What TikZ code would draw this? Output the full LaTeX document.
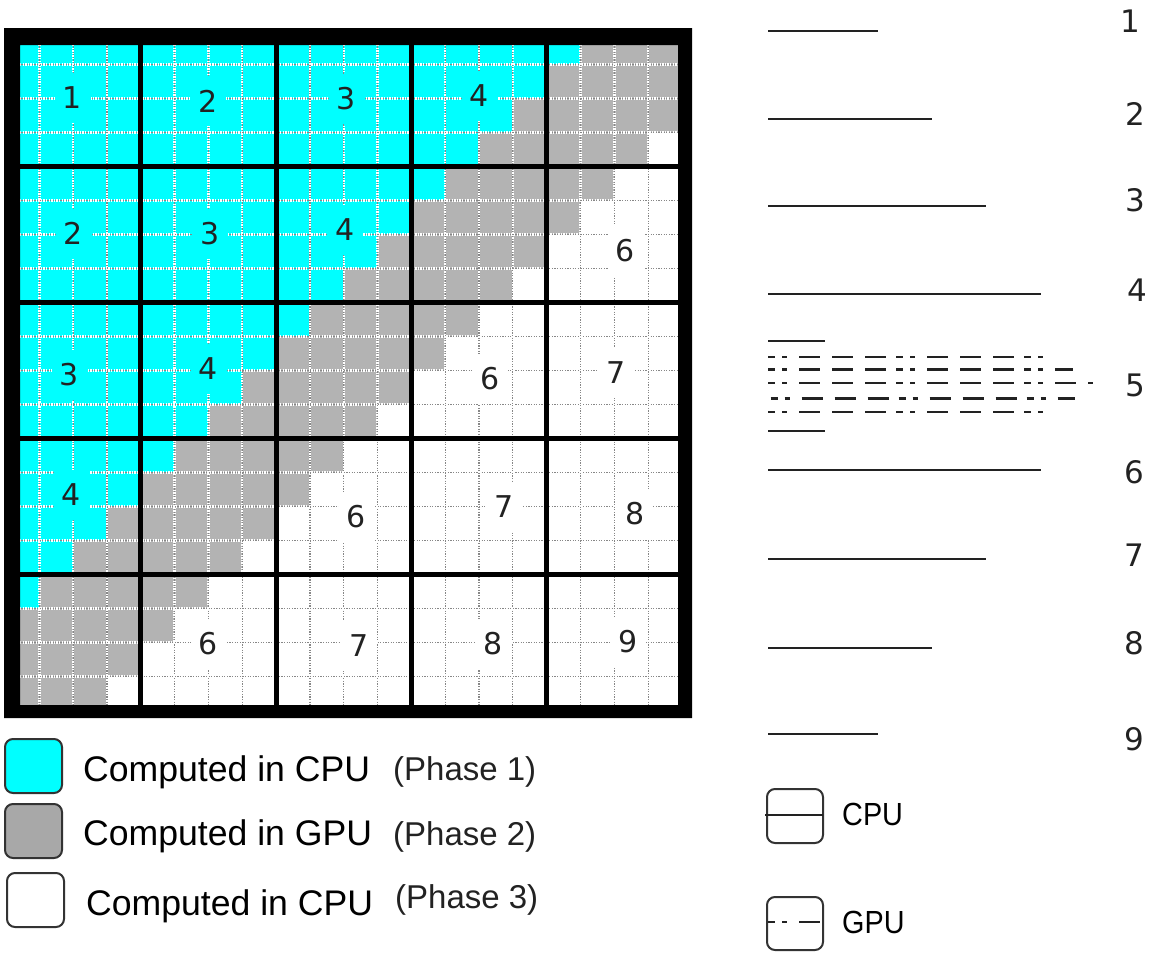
\documentclass[tikz,border=0pt]{standalone}
\usepackage{fontspec}
\usepackage{graphicx}
\newfontfamily\numfont{DejaVu Sans}
\newfontfamily\legfont{Liberation Sans}
\definecolor{cellcpu}{RGB}{0,255,255}
\definecolor{cellgpu}{RGB}{179,179,179}
\definecolor{keygpu}{RGB}{168,168,168}
\definecolor{ink}{RGB}{34,34,34}
\definecolor{keyedge}{RGB}{51,51,51}
\definecolor{dotgray}{RGB}{135,135,135}
% fine grid: origin and cell pitch
\def\GX{5.5}
\def\GY{30.5}
\def\GDX{33.825}
\def\GDY{34}
\begin{document}
\begin{tikzpicture}[x=1pt,y=-1pt,
  fineback/.style={white,line width=2.4pt,dash pattern=on 1.4pt off 1.2pt},
  finedot/.style={dotgray,line width=1.2pt,dash pattern=on 1.2pt off 1.4pt,dash phase=-1.4pt},
  blockline/.style={black,line width=5pt},
  blocklabel/.style={font=\numfont\fontsize{30}{36}\selectfont,text=ink,inner sep=0pt,minimum width=36pt,minimum height=50pt},
  rownum/.style={font=\numfont\fontsize{31}{37}\selectfont,text=ink,inner sep=0pt},
  cpuline/.style={ink,line width=2.4pt},
  gpuline/.style={ink,line width=2.4pt,dash pattern=on 7pt off 7pt on 5pt off 12pt on 21pt off 12pt on 21pt off 12pt on 21pt off 10pt},
  keybox/.style={draw=keyedge,line width=2pt,rounded corners=8pt},
  keytext/.style={font=\legfont\fontsize{35.6}{42}\selectfont,text=black,inner sep=0pt,anchor=base west},
  phasetext/.style={font=\legfont\fontsize{33}{40}\selectfont,text=ink,inner sep=0pt,anchor=base west},
  unittext/.style={font=\legfont\fontsize{32}{38}\selectfont,text=black,inner sep=0pt,anchor=base west}
]
\useasboundingbox (0,0) rectangle (1149,953);

% cells coloured by anti-diagonal index r+c
\foreach \r in {0,...,19}{
  \foreach \c in {0,...,19}{
    \pgfmathtruncatemacro\s{\r+\c}
    \ifnum\s<17 \def\cc{cellcpu}\else\ifnum\s<22 \def\cc{cellgpu}\else\def\cc{white}\fi\fi
    \fill[\cc] (\GX+\c*\GDX,\GY+\r*\GDY) rectangle (\GX+\c*\GDX+\GDX,\GY+\r*\GDY+\GDY);
  }
}

% fine dotted grid
\foreach \k in {1,...,19}{
  \pgfmathtruncatemacro\m{mod(\k,4)}
  \ifnum\m>0
    \draw[fineback] (\GX+\k*\GDX,45) -- (\GX+\k*\GDX,705);
    \draw[fineback] (20,\GY+\k*\GDY) -- (678,\GY+\k*\GDY);
    \draw[finedot] (\GX+\k*\GDX,45) -- (\GX+\k*\GDX,705);
    \draw[finedot] (20,\GY+\k*\GDY) -- (678,\GY+\k*\GDY);
  \fi
}

% block labels
\node[blocklabel,fill=cellcpu] (b00) at (72.5,98) {1};
\node[blocklabel,fill=cellcpu] (b01) at (208,101) {2};
\node[blocklabel,fill=cellcpu] (b02) at (346.5,98.5) {3};
\node[blocklabel,fill=cellcpu] (b03) at (479.5,96) {4};
\node[blocklabel,fill=cellcpu] (b10) at (73.5,233.5) {2};
\node[blocklabel,fill=cellcpu] (b11) at (210,233.5) {3};
\node[blocklabel,fill=cellcpu] (b12) at (345,230) {4};
\node[blocklabel,fill=white] (b14) at (625.5,251) {6};
\node[blocklabel,fill=cellcpu] (b20) at (69.5,375) {3};
\node[blocklabel,fill=cellcpu] (b21) at (208.5,369) {4};
\node[blocklabel,fill=white] (b23) at (490,379) {6};
\node[blocklabel,fill=white] (b24) at (616,372.5) {7};
\node[blocklabel,fill=cellcpu] (b30) at (71.5,495) {4};
\node[blocklabel,fill=white] (b32) at (356.5,517) {6};
\node[blocklabel,fill=white] (b33) at (504,506.5) {7};
\node[blocklabel,fill=white] (b34) at (635,514) {8};
\node[blocklabel,fill=white] (b41) at (208.5,643.5) {6};
\node[blocklabel,fill=white] (b42) at (359,646) {7};
\node[blocklabel,fill=white] (b43) at (493,644) {8};
\node[blocklabel,fill=white] (b44) at (628,642) {9};

% block separators and outer frame
\foreach \k in {1,...,4}{
  \draw[blockline] (\GX+4*\k*\GDX,45) -- (\GX+4*\k*\GDX,705);
  \draw[blockline] (20,\GY+4*\k*\GDY) -- (678,\GY+4*\k*\GDY);
}
\fill[black,even odd rule] (4,28) rectangle (692,718) (20,45) rectangle (678,705);

% legend of colours
\draw[keybox,fill=cellcpu] (5,739) rectangle (62,793);
\draw[keybox,fill=keygpu] (5,804) rectangle (62,858);
\draw[keybox,fill=white] (7,873) rectangle (64,927);
\node[keytext] (k1) at (83,781) {Computed in CPU};
\node[keytext] (k2) at (83,845) {Computed in GPU};
\node[keytext] (k3) at (86,915) {Computed in CPU};
\node[phasetext] (p1) at (393,780) {(Phase 1)};
\node[phasetext] (p2) at (393,845) {(Phase 2)};
\node[phasetext] (p3) at (395,908) {(Phase 3)};

% anti-diagonal workload per step
\draw[cpuline] (768,30.7) -- (878,30.7);
\draw[cpuline] (768,119) -- (932,119);
\draw[cpuline] (768,206) -- (986,206);
\draw[cpuline] (768,294) -- (1041,294);
\draw[cpuline] (768,340.7) -- (825,340.7);
\draw[gpuline] (768,356.7) -- (1045,356.7);
\draw[gpuline] (768,369.3) -- (1073,369.3);
\draw[gpuline] (768,382.7) -- (1093,382.7);
\draw[gpuline] (770.5,398.3) -- (1075,398.3);
\draw[gpuline] (768,411.7) -- (1045,411.7);
\draw[cpuline] (768,430.7) -- (825,430.7);
\draw[cpuline] (768,470) -- (1041,470);
\draw[cpuline] (768,559) -- (986,559);
\draw[cpuline] (768,648) -- (932,648);
\draw[cpuline] (768,734) -- (878,734);

\node[rownum] (n1) at (1130.5,21) {1};
\node[rownum] (n2) at (1135,114) {2};
\node[rownum] (n3) at (1135,200.5) {3};
\node[rownum] (n4) at (1137.5,290) {4};
\node[rownum] (n5) at (1135,385.5) {5};
\node[rownum] (n6) at (1134,472) {6};
\node[rownum] (n7) at (1134,555.5) {7};
\node[rownum] (n8) at (1134,643.5) {8};
\node[rownum] (n9) at (1134,739.5) {9};

% legend of line styles
\draw[keybox] (767,789) rectangle (823,843);
\draw[cpuline,line width=2pt] (765,815) -- (823,815);
\node[unittext] (ucpu) at (842,825) {\scalebox{0.9}[1]{CPU}};
\draw[keybox] (767,897) rectangle (823,950);
\draw[gpuline,line width=2pt] (768,922) -- (823,922);
\node[unittext] (ugpu) at (842,933) {\scalebox{0.9}[1]{GPU}};
\end{tikzpicture}
\end{document}
